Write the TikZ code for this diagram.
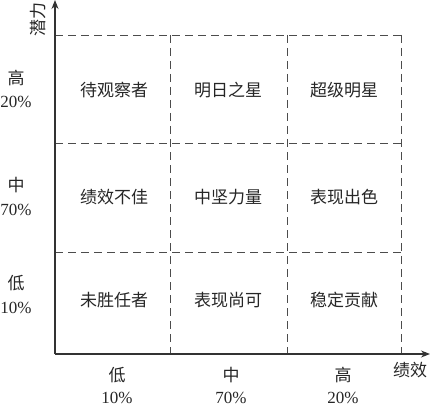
\documentclass[tikz,border=0pt]{standalone}
\usepackage{fontspec}
\setmainfont{Liberation Serif}
\newfontfamily\cjk{Noto Sans CJK SC}
\usetikzlibrary{arrows.meta}
\tikzset{
  cell/.style={font=\cjk\fontsize{17}{19}\selectfont, inner sep=0pt, text=black!85},
  lvl/.style={font=\cjk\fontsize{17}{19}\selectfont, inner sep=0pt, text=black!85},
  pct/.style={font=\fontsize{17}{19}\selectfont, inner sep=0pt, text=black!85},
  grid line/.style={line width=0.9pt, dash pattern=on 8pt off 5pt, draw=black!70},
  axis/.style={line width=1.1pt, draw=black!80, -{Stealth[length=9pt,width=7pt]}},
}
\begin{document}
\begin{tikzpicture}[x=1pt,y=-1pt]
\useasboundingbox (0,0) rectangle (430,406);
% axes
\coordinate (O) at (55,354);
\coordinate (ytop) at (55,0);
\coordinate (xend) at (430,354);
% grid
\draw[grid line] (55,35) -- (401,35);
\draw[grid line] (55,143) -- (401,143);
\draw[grid line] (55,252) -- (401,252);
\draw[grid line] (170,35) -- (170,354);
\draw[grid line] (287,35) -- (287,354);
\draw[grid line] (401,35) -- (401,354);
\draw[axis] (O) -- (ytop);
\draw[axis] (O) -- (xend);
% axis titles
\node[lvl, rotate=90] (ylab) at (38,20) {潜力};
\node[lvl] (xlab) at (410,370) {绩效};
% left labels
\node[lvl] (yh) at (16,78) {高};
\node[pct] (yhp) at (16,102) {20\%};
\node[lvl] (ym) at (16,185) {中};
\node[pct] (ymp) at (16,210) {70\%};
\node[lvl] (yl) at (16,283) {低};
\node[pct] (ylp) at (16,308) {10\%};
% bottom labels
\node[lvl] (xl) at (117,375) {低};
\node[pct] (xlp) at (117,398) {10\%};
\node[lvl] (xm) at (231,375) {中};
\node[pct] (xmp) at (231,398) {70\%};
\node[lvl] (xh) at (343,375) {高};
\node[pct] (xhp) at (343,398) {20\%};
% cells
\node[cell] (c13) at (114,90) {待观察者};
\node[cell] (c23) at (228,90) {明日之星};
\node[cell] (c33) at (344,90) {超级明星};
\node[cell] (c12) at (114,197) {绩效不佳};
\node[cell] (c22) at (228,197) {中坚力量};
\node[cell] (c32) at (344,197) {表现出色};
\node[cell] (c11) at (114,300) {未胜任者};
\node[cell] (c21) at (228,300) {表现尚可};
\node[cell] (c31) at (344,300) {稳定贡献};
\end{tikzpicture}
\end{document}
